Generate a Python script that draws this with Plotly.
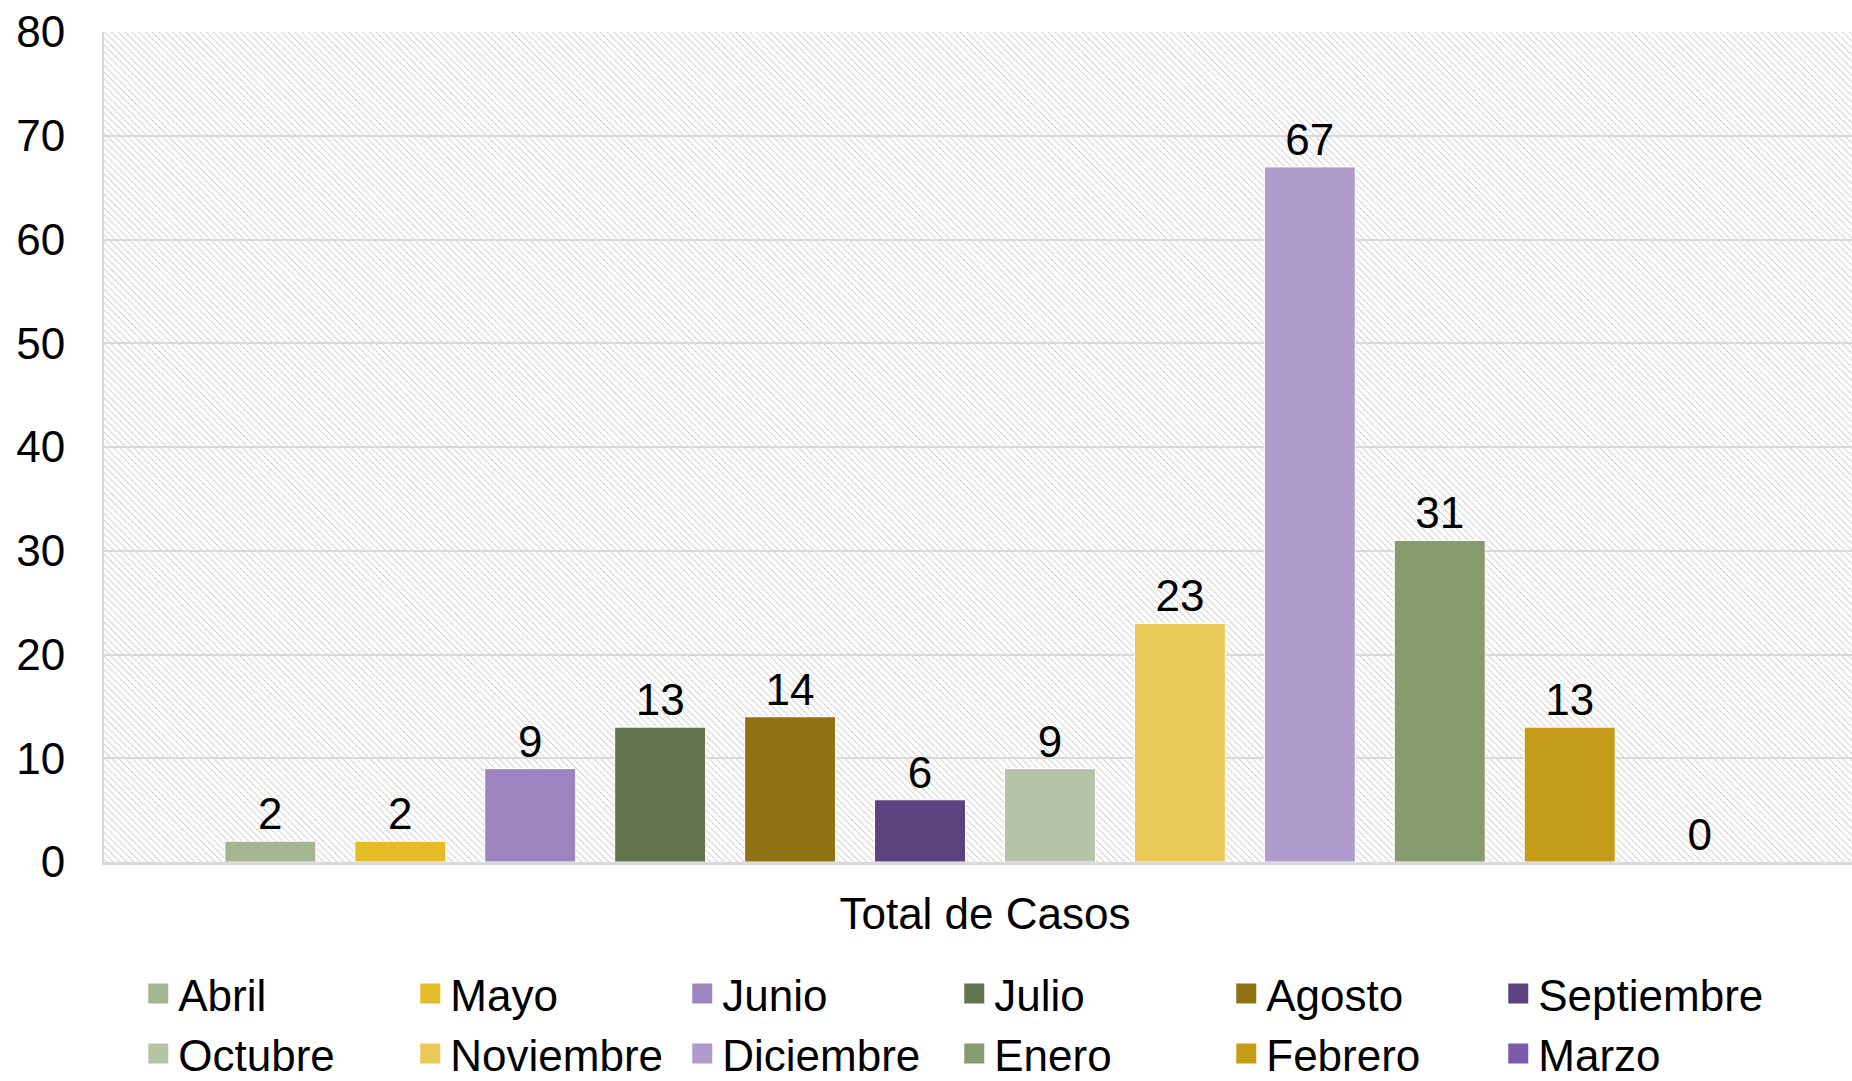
import base64
import plotly.graph_objects as go

category = ["Total de Casos"]
months = ["Abril", "Mayo", "Junio", "Julio", "Agosto", "Septiembre",
          "Octubre", "Noviembre", "Diciembre", "Enero", "Febrero", "Marzo"]
values = [2, 2, 9, 13, 14, 6, 9, 23, 67, 31, 13, 0]
colors = ["#a5b592", "#e4bc28", "#9d84c0", "#63744d", "#907212", "#5c4380",
          "#b7c3a6", "#eac959", "#b09ccc", "#879c6e", "#c49c18", "#7c5ba8"]
y_ticks = [0, 10, 20, 30, 40, 50, 60, 70, 80]

FONT = "Liberation Sans, Arial, sans-serif"
FS = 44

fig = go.Figure()
for m, v, c in zip(months, values, colors):
    fig.add_trace(go.Bar(
        name=m, x=category, y=[v], legendgroup=m, showlegend=False,
        marker=dict(color=c, line=dict(color="white", width=1)),
        text=[str(v)], textposition="outside", cliponaxis=False,
        textfont=dict(family=FONT, size=FS, color="black"),
    ))
# legend entries with larger square swatches
for m, c in zip(months, colors):
    fig.add_trace(go.Scatter(
        name=m, x=[None], y=[None], mode="markers", legendgroup=m,
        marker=dict(symbol="square", size=16, color=c, line=dict(color=c, width=4)),
        hoverinfo="skip",
    ))

# hatched plot-area background
svg = (
    "<svg xmlns='http://www.w3.org/2000/svg' width='1748' height='830'>"
    "<defs><pattern id='p' width='4.8' height='4.8' patternUnits='userSpaceOnUse' "
    "patternTransform='rotate(-45)'>"
    "<line x1='0' y1='0' x2='0' y2='4.8' stroke='#c8c8c8' stroke-width='2' "
    "stroke-dasharray='2 0.4'/>"
    "</pattern></defs><rect width='100%' height='100%' fill='url(#p)'/></svg>"
)
uri = "data:image/svg+xml;base64," + base64.b64encode(svg.encode()).decode()

fig.update_layout(
    width=1852, height=1081,
    margin=dict(l=104, r=0, t=32, b=219, autoexpand=False),
    paper_bgcolor="white", plot_bgcolor="rgba(0,0,0,0)",
    barmode="group", bargap=0.108, bargroupgap=0.3,
    font=dict(family=FONT, size=FS, color="black"),
    images=[dict(source=uri, xref="paper", yref="paper", x=0, y=1,
                 sizex=1, sizey=1, xanchor="left", yanchor="top",
                 sizing="stretch", layer="below")],
    legend=dict(orientation="h", x=0.0196, xanchor="left", y=-0.116, yanchor="top",
                entrywidth=227, entrywidthmode="pixels",
                font=dict(family=FONT, size=FS, color="black"),
                traceorder="normal", itemclick=False, itemsizing="trace"),
    showlegend=True,
)
fig.update_yaxes(range=[0, 80], tickvals=y_ticks, showgrid=True,
                 gridcolor="#d9d9d9", gridwidth=2, zeroline=False,
                 showline=True, linecolor="#d9d9d9", linewidth=2,
                 ticks="", ticklabelstandoff=28,
                 tickfont=dict(family=FONT, size=FS, color="black"))
fig.update_xaxes(range=[-0.504, 0.496], showline=True, linecolor="#d9d9d9", linewidth=3,
                 ticks="", ticklabelstandoff=11,
                 tickfont=dict(family=FONT, size=FS, color="black"))

fig.write_html("out.html", config={"displayModeBar": False},
               post_script="document.body.style.margin='0';document.body.style.overflow='hidden';")
